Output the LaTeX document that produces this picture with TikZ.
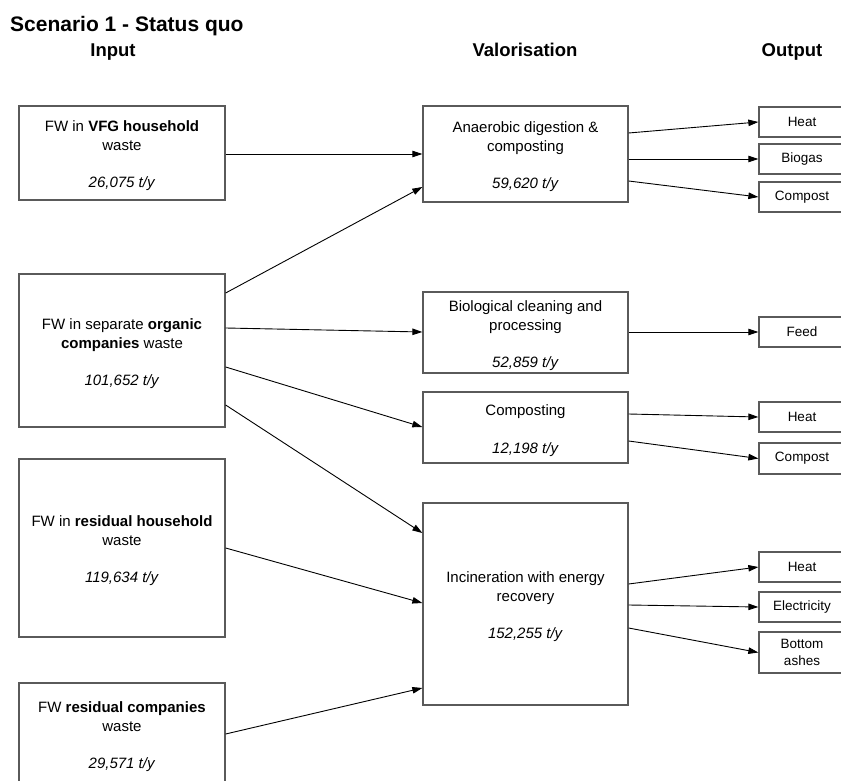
\documentclass[tikz,border=0pt]{standalone}
\usepackage{fontspec}
\setmainfont{Liberation Sans}
\usetikzlibrary{arrows.meta}
\definecolor{boxline}{HTML}{5A5A5A}
% taller first line so the block of text sits a little lower in its box
\newcommand\firstline{\rule{0pt}{17pt}}
\begin{document}
\begin{tikzpicture}[x=1pt,y=-1pt,
  txt/.style={font=\fontsize{15}{19}\selectfont},
  box/.style={draw=boxline, line width=1.3pt, align=center, inner sep=0pt, txt},
  inbox/.style={box, minimum width=206pt},
  valbox/.style={box, minimum width=205pt},
  outbox/.style={box, minimum width=86pt, minimum height=30pt, font=\fontsize{13.5}{17}\selectfont},
  head/.style={anchor=base, font=\bfseries\fontsize{18.5}{20}\selectfont},
  arr/.style={draw=black, line width=0.9pt, -{Triangle[length=10pt,width=6.5pt]}}]
\useasboundingbox (0,0) rectangle (841,781);

% headings
\node[anchor=base west, font=\bfseries\fontsize{21}{24}\selectfont, inner sep=0pt] (title) at (10,32) {Scenario 1 - Status quo};
\node[head] (hin) at (113,56.5) {Input};
\node[head] (hval) at (525,56.5) {Valorisation};
\node[head] (hout) at (792,56.5) {Output};

% input streams
\node[inbox, minimum height=94pt] (vfg) at (122,153) {\firstline FW in \textbf{VFG household}\\waste\\[18pt]\textit{26,075 t/y}};
\node[inbox, minimum height=153pt] (org) at (122,350.5) {\firstline FW in separate \textbf{organic}\\\textbf{companies} waste\\[18pt]\textit{101,652 t/y}};
\node[inbox, minimum height=178pt] (rhh) at (122,548) {\firstline FW in \textbf{residual household}\\waste\\[18pt]\textit{119,634 t/y}};
\node[inbox, minimum height=102pt] (rco) at (122,734) {\firstline FW \textbf{residual companies}\\waste\\[18pt]\textit{29,571 t/y}};

% valorisation routes
\node[valbox, minimum height=96pt] (ad) at (525.5,154) {\firstline Anaerobic digestion \&\\composting\\[18pt]\textit{59,620 t/y}};
\node[valbox, minimum height=81pt] (bio) at (525.5,332.5) {\firstline Biological cleaning and\\processing\\[18.5pt]\textit{52,859 t/y}};
\node[valbox, minimum height=71pt] (cmp) at (525.5,427.5) {\firstline Composting\\[19pt]\textit{12,198 t/y}};
\node[valbox, minimum height=202pt] (inc) at (525.5,604) {\firstline Incineration with energy\\recovery\\[18pt]\textit{152,255 t/y}};

% outputs
\node[outbox] (heatA) at (802,122) {Heat};
\node[outbox] (biogas) at (802,159) {Biogas};
\node[outbox] (compA) at (802,197) {Compost};
\node[outbox] (feed) at (802,332) {Feed};
\node[outbox] (heatC) at (802,417) {Heat};
\node[outbox, minimum height=31pt] (compC) at (802,458.5) {Compost};
\node[outbox] (heatI) at (802,567) {Heat};
\node[outbox] (elec) at (802,607) {Electricity};
\node[outbox, minimum height=41pt] (ash) at (802,652.5) {Bottom\\ashes};

% flows from inputs to valorisation
\draw[arr] (vfg.east |- 0,154) -- (ad.west |- 0,154);
\draw[arr] (org.east |- 0,293) -- (ad.west |- 0,187);
\draw[arr] (org.east |- 0,328) -- (bio.west |- 0,332);
\draw[arr] (org.east |- 0,367) -- (cmp.west |- 0,427);
\draw[arr] (org.east |- 0,405) -- (inc.west |- 0,533);
\draw[arr] (rhh.east |- 0,548) -- (inc.west |- 0,603);
\draw[arr] (rco.east |- 0,734) -- (inc.west |- 0,688);

% flows from valorisation to outputs
\draw[arr] (ad.east |- 0,133) -- (heatA.west);
\draw[arr] (ad.east |- 0,159) -- (biogas.west);
\draw[arr] (ad.east |- 0,181) -- (compA.west);
\draw[arr] (bio.east |- 0,332) -- (feed.west);
\draw[arr] (cmp.east |- 0,414) -- (heatC.west);
\draw[arr] (cmp.east |- 0,441) -- (compC.west);
\draw[arr] (inc.east |- 0,584) -- (heatI.west);
\draw[arr] (inc.east |- 0,605) -- (elec.west);
\draw[arr] (inc.east |- 0,628) -- (ash.west);
\end{tikzpicture}
\end{document}
